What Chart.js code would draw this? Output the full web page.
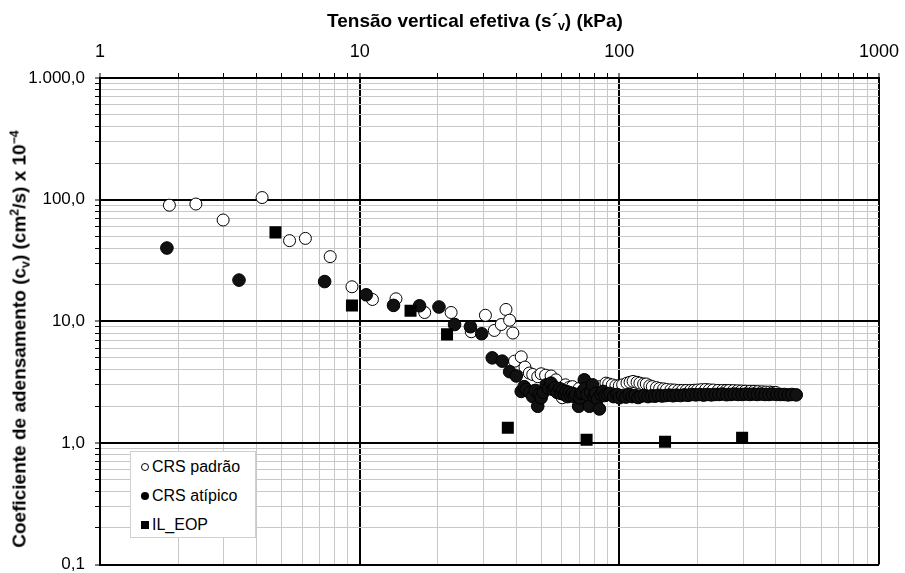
<!DOCTYPE html>
<html>
<head>
<meta charset="utf-8">
<script src="https://cdn.jsdelivr.net/npm/chart.js@4.4.1/dist/chart.umd.min.js"></script>
<style>
  body { margin: 0; background: #fff; font-family: "Liberation Sans", Arial, sans-serif; color: #000; }
  #wrap { position: relative; width: 905px; height: 573px; overflow: hidden; }
  #xTitle {
    position: absolute; left: 475px; top: 20px; transform: translate(-50%, -50%);
    font-weight: bold; font-size: 19px; white-space: nowrap; line-height: 1;
  }
  #yTitle {
    position: absolute; left: 19px; top: 339px; transform: translate(-50%, -50%) rotate(-90deg);
    font-weight: bold; font-size: 19px; white-space: nowrap; line-height: 1;
  }
  sub { font-size: 65%; vertical-align: -0.3em; line-height: 0; }
  sup { font-size: 65%; vertical-align: 0.55em; line-height: 0; }
  #legend {
    position: absolute; left: 130px; top: 451px; width: 126px; height: 87px;
    background: #fff; border: 1px solid #d0d0d0; box-sizing: border-box;
    font-size: 16px;
  }
  .item { position: absolute; left: 10px; display: flex; align-items: center; white-space: nowrap; }
  .mk { width: 8px; height: 8px; box-sizing: border-box; margin-right: 3px; }
  .open { border: 1px solid #000; border-radius: 50%; background: #fff; }
  .fill { border-radius: 50%; background: #000; }
  .sq { background: #000; }
</style>
</head>
<body>
<div id="wrap">
  <canvas id="chart" width="905" height="573"></canvas>
  <div id="xTitle">Tensão vertical efetiva (s´<sub>v</sub>) (kPa)</div>
  <div id="yTitle">Coeficiente de adensamento (c<sub>v</sub>) (cm<sup>2</sup>/s) x 10<sup>−4</sup></div>
  <div id="legend">
    <div class="item" style="top:6px"><span class="mk open"></span>CRS padrão</div>
    <div class="item" style="top:35px"><span class="mk fill"></span>CRS atípico</div>
    <div class="item" style="top:64px"><span class="mk sq"></span>IL_EOP</div>
  </div>
</div>
<script>
// axis ticks
const X_TICKS = [1, 2, 3, 4, 5, 6, 7, 8, 9, 10, 20, 30, 40, 50, 60, 70, 80, 90,
  100, 200, 300, 400, 500, 600, 700, 800, 900, 1000];
const X_MAJOR = [1, 10, 100, 1000];
const X_LABELS = ["1", "10", "100", "1000"];

const Y_TICKS = [0.1, 0.2, 0.3, 0.4, 0.5, 0.6, 0.7, 0.8, 0.9, 1, 2, 3, 4, 5, 6, 7, 8, 9,
  10, 20, 30, 40, 50, 60, 70, 80, 90, 100, 200, 300, 400, 500, 600, 700, 800, 900, 1000];
const Y_MAJOR = [0.1, 1, 10, 100, 1000];
const Y_LABELS = ["0,1", "1,0", "10,0", "100,0", "1.000,0"];

// CRS padrão (open circles)
const padraoX = [1.85, 2.34, 2.98, 4.21, 5.37, 6.18, 7.7, 9.34, 11.2, 13.8, 17.8, 22.5, 26.9, 30.5,
  33.0, 35.1, 36.6, 37.8, 38.9, 39.5, 41.9, 43.3, 45.0, 46.4, 48.5, 50.0, 52.0, 54.6, 57, 60.3,
  62, 64, 66, 70, 73, 77, 80, 84,
  88.8, 91, 94, 97, 100, 103, 107, 110, 113, 117, 120, 124, 127, 131, 134, 139, 143, 148, 152, 158,
  163, 169, 175, 181, 188, 194, 200, 207, 215, 222, 230, 240, 250, 258, 265, 275, 285, 295, 305,
  318, 330, 342, 355, 367, 380, 390, 400];
const padraoY = [90, 92, 68, 104, 46, 48, 34, 19.2, 15.1, 15.3, 11.8, 11.8, 8.2, 11.2,
  8.4, 9.4, 12.5, 10.2, 8.0, 4.7, 5.1, 4.2, 3.75, 3.65, 3.5, 3.7, 3.6, 3.55, 3.3, 2.35,
  3.0, 2.85, 2.9, 2.8, 2.75, 2.6, 2.55, 2.9,
  3.1, 3.05, 3.0, 2.95, 2.95, 3.0, 3.1, 3.15, 3.2, 3.15, 3.1, 3.05, 3.05, 2.95, 2.9, 2.85, 2.8, 2.78, 2.75, 2.73,
  2.72, 2.7, 2.7, 2.7, 2.7, 2.71, 2.72, 2.74, 2.75, 2.73, 2.72, 2.7, 2.7, 2.7, 2.7, 2.69, 2.68, 2.67, 2.66,
  2.65, 2.65, 2.64, 2.63, 2.62, 2.62, 2.6, 2.6];

// CRS atípico (filled circles)
const atipicoX = [1.81, 3.43, 7.33, 10.6, 13.5, 17.0, 20.2, 23.2, 26.7, 29.5, 32.4, 35.4, 37.8,
  40.1, 41.9, 43.0, 43.8, 45.2, 46.4, 47.5, 48.5, 49.2, 50.0, 51, 52.3, 53.4, 54.6, 55.5, 56.5,
  57.6, 58.8, 59.6, 60.5, 61.5, 62.4, 63.2, 64, 65, 66.1, 67, 68, 69.7, 70.5, 71, 72, 73.3, 74,
  75, 76.7, 77.5, 78.9, 80, 81, 82.5, 83.8, 85, 86.5, 88, 90,
  92, 95, 98, 100, 103, 106, 109, 112, 115, 118, 121, 125, 129, 133, 137, 141, 146, 151, 156, 161,
  166, 172, 178, 184, 190, 197, 204, 211, 218, 226, 234, 242, 250, 259, 268, 277, 287, 297, 307, 318,
  329, 340, 352, 364, 377, 390, 404, 418, 432, 447, 462, 480];
const atipicoY = [40, 21.8, 21.2, 16.5, 13.5, 13.4, 13.1, 9.4, 9.0, 7.9, 5.0, 4.7, 3.85,
  3.55, 2.65, 2.9, 2.75, 2.6, 2.4, 2.7, 2.0, 2.5, 2.35, 2.6, 3.0, 2.8, 3.1, 2.75, 2.85,
  2.6, 2.8, 2.55, 2.7, 2.5, 2.65, 2.4, 2.6, 2.45, 2.55, 2.4, 2.5, 2.0, 2.35, 2.55, 2.6, 3.3, 2.8,
  2.5, 2.0, 2.6, 3.0, 2.4, 2.55, 2.3, 1.9, 2.5, 2.65, 2.45, 2.5,
  2.55, 2.4, 2.5, 2.35, 2.45, 2.38, 2.5, 2.4, 2.45, 2.36, 2.42, 2.45, 2.4, 2.44, 2.42, 2.46, 2.43, 2.45, 2.47, 2.44,
  2.47, 2.45, 2.48, 2.46, 2.5, 2.48, 2.5, 2.47, 2.5, 2.48, 2.5, 2.5, 2.52, 2.49, 2.5, 2.52, 2.5, 2.5, 2.52, 2.5,
  2.52, 2.5, 2.52, 2.5, 2.5, 2.52, 2.5, 2.5, 2.5, 2.48, 2.5, 2.48];

// IL_EOP (squares)
const ilX = [4.74, 9.34, 15.7, 21.7, 37.2, 74.8, 150, 297];
const ilY = [53.8, 13.5, 12.2, 7.8, 1.33, 1.06, 1.02, 1.1];

function toXY(xs, ys) {
  return xs.map((x, i) => ({ x, y: ys[i] }));
}

const FONT = "'Liberation Sans', Arial, sans-serif";

function gridColor(ctx, majors) {
  return ctx.tick && majors.includes(ctx.tick.value) ? "#000" : "#c8c8c8";
}
function gridWidth(ctx, majors) {
  return ctx.tick && majors.includes(ctx.tick.value) ? 2 : 1;
}

new Chart(document.getElementById("chart"), {
  type: "scatter",
  data: {
    datasets: [
      {
        label: "IL_EOP", data: toXY(ilX, ilY), order: 0,
        pointStyle: "rect", pointRadius: 8.5, pointHoverRadius: 8.5,
        backgroundColor: "#000", borderColor: "#000", borderWidth: 0,
      },
      {
        label: "CRS atípico", data: toXY(atipicoX, atipicoY), order: 1,
        pointStyle: "circle", pointRadius: 6.3, pointHoverRadius: 6.3,
        backgroundColor: "#111", borderColor: "#000", borderWidth: 1,
      },
      {
        label: "CRS padrão", data: toXY(padraoX, padraoY), order: 2,
        pointStyle: "circle", pointRadius: 6, pointHoverRadius: 6,
        backgroundColor: "#fff", borderColor: "#000", borderWidth: 1,
      },
    ],
  },
  options: {
    responsive: false,
    animation: false,
    devicePixelRatio: 1,
    layout: { padding: { left: 0, top: 0, right: 26, bottom: 5 } },
    plugins: { legend: { display: false }, tooltip: { enabled: false } },
    scales: {
      x: {
        type: "logarithmic", position: "top", min: 1, max: 1000,
        afterBuildTicks: (s) => { s.ticks = X_TICKS.map(v => ({ value: v, major: X_MAJOR.includes(v) })); },
        afterFit: (s) => { s.height = 78; s.paddingLeft = 0; s.paddingRight = 0; },
        grid: {
          color: (c) => gridColor(c, X_MAJOR), lineWidth: (c) => gridWidth(c, X_MAJOR),
          tickColor: "#000", tickLength: 5, tickWidth: 1,
        },
        border: { display: true, color: "#000", width: 2 },
        ticks: {
          autoSkip: false, maxRotation: 0, color: "#000", padding: 10,
          font: { family: FONT, size: 18 },
          callback: (v) => { const i = X_MAJOR.indexOf(v); return i >= 0 ? X_LABELS[i] : ""; },
        },
      },
      y: {
        type: "logarithmic", position: "left", min: 0.1, max: 1000,
        afterBuildTicks: (s) => { s.ticks = Y_TICKS.map(v => ({ value: v, major: Y_MAJOR.includes(v) })); },
        afterFit: (s) => { s.width = 100; s.paddingTop = 0; s.paddingBottom = 0; },
        grid: {
          color: (c) => gridColor(c, Y_MAJOR), lineWidth: (c) => gridWidth(c, Y_MAJOR),
          tickColor: "#000", tickLength: 5, tickWidth: 1,
        },
        border: { display: true, color: "#000", width: 2 },
        ticks: {
          autoSkip: false, color: "#000", padding: 10,
          font: { family: FONT, size: 17 },
          callback: (v) => { const i = Y_MAJOR.indexOf(v); return i >= 0 ? Y_LABELS[i] : ""; },
        },
      },
    },
  },
});
</script>
</body>
</html>
